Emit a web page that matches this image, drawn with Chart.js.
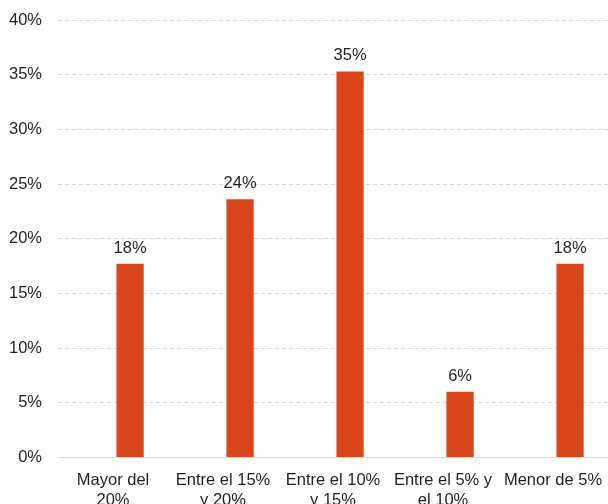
<!DOCTYPE html>
<html>
<head>
<meta charset="utf-8">
<script src="https://cdn.jsdelivr.net/npm/chart.js@4.4.1/dist/chart.umd.min.js"></script>
<style>
  html, body { margin: 0; padding: 0; background: #ffffff; overflow: hidden; }
  #wrap { position: relative; width: 608px; height: 523px; }
</style>
</head>
<body>
<div id="wrap"><canvas id="c"></canvas></div>
<script>
const categories = [
  ["Mayor del", "20%"],
  ["Entre el 15%", "y 20%"],
  ["Entre el 10%", "y 15%"],
  ["Entre el 5% y", "el 10%"],
  ["Menor de 5%"]
];
const emptySeries = [null, null, null, null, null];
const shareValues = [17.7, 23.6, 35.3, 6.0, 17.7];
const yTicks = [0, 5, 10, 15, 20, 25, 30, 35, 40];

const FONT = "'Liberation Sans', Arial, sans-serif";
const TEXT = "#1f1f1f";

const valueLabels = {
  id: 'valueLabels',
  afterDatasetsDraw(chart) {
    const ctx = chart.ctx;
    const meta = chart.getDatasetMeta(1);
    ctx.save();
    ctx.font = "16.5px " + FONT;
    ctx.fillStyle = TEXT;
    ctx.textAlign = 'center';
    ctx.textBaseline = 'alphabetic';
    meta.data.forEach((bar, i) => {
      const v = chart.data.datasets[1].data[i];
      ctx.fillText(Math.round(v) + '%', bar.x, bar.y - 11);
    });
    ctx.restore();
  }
};

new Chart(document.getElementById('c'), {
  type: 'bar',
  data: {
    labels: categories,
    datasets: [
      { label: '', data: emptySeries, backgroundColor: 'rgba(0,0,0,0)' },
      { label: 'Porcentaje', data: shareValues, backgroundColor: '#D9461B' }
    ]
  },
  options: {
    responsive: true,
    maintainAspectRatio: false,
    animation: false,
    datasets: { bar: { categoryPercentage: 0.62, barPercentage: 0.8 } },
    layout: { padding: { left: -7, right: 0, top: 20, bottom: 0 } },
    plugins: { legend: { display: false }, tooltip: { enabled: false } },
    scales: {
      x: {
        afterFit(axis) { axis.paddingLeft = 0; axis.paddingRight = 0; },
        grid: { display: false, drawTicks: false },
        border: { display: true, color: '#d9d9d9', width: 1 },
        ticks: { color: TEXT, font: { family: FONT, size: 16.5 }, padding: 13, maxRotation: 0, autoSkip: false }
      },
      y: {
        min: 0, max: 40,
        afterBuildTicks(axis) { axis.ticks = yTicks.map(v => ({ value: v })); },
        afterFit(axis) { axis.paddingTop = 0; axis.paddingBottom = 0; axis.paddingLeft = 0; axis.paddingRight = 0; },
        grid: {
          drawTicks: false,
          color: ctx => ctx.tick && ctx.tick.value === 0 ? 'rgba(0,0,0,0)' : '#d9d9d9',
          lineWidth: 1
        },
        border: { display: false, dash: [4, 3] },
        ticks: {
          color: TEXT, font: { family: FONT, size: 16.5 }, padding: 16,
          callback: v => v + '%'
        }
      }
    }
  },
  plugins: [valueLabels]
});
</script>
</body>
</html>
